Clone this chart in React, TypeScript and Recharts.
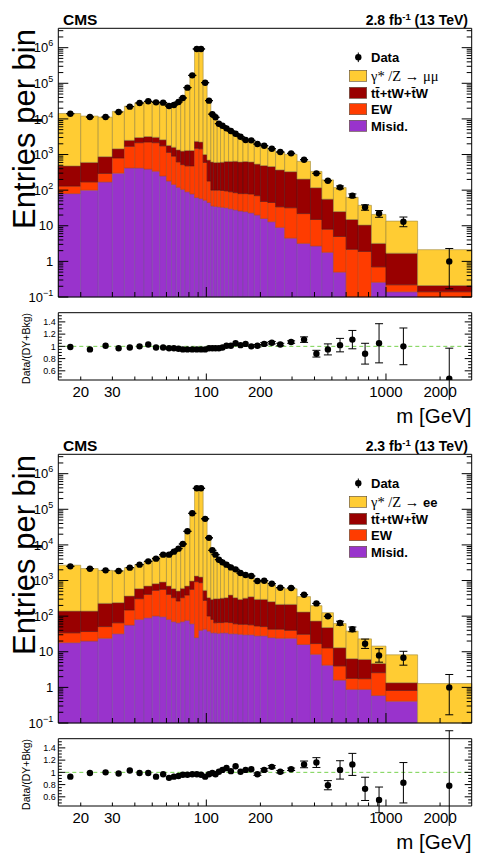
import React from 'react';
import {
  ComposedChart,
  XAxis,
  YAxis,
  Scatter,
  ErrorBar,
  ReferenceArea,
  ReferenceLine,
  Legend,
} from 'recharts';

const SANS = '"Liberation Sans", Arial, Helvetica, sans-serif';
const SERIF = '"Liberation Serif", "DejaVu Serif", "Times New Roman", serif';

// Invariant-mass binning (GeV)
const massEdges = [
  15, 20, 25, 30, 35, 40, 45, 50, 55, 60, 64, 68, 72, 76, 81, 86, 91, 96, 101, 106, 110, 115,
  120, 126, 133, 141, 150, 160, 171, 185, 200, 220, 243, 273, 320, 380, 440, 510, 600, 700,
  830, 1000, 1500, 3000,
];

// Mass-axis ticks
const massTicks = [20, 30, 40, 50, 60, 70, 80, 90, 100, 200, 300, 400, 500, 600, 700, 800, 900, 1000, 2000];
const massMajorTicks = [100, 1000];
const massTickLabels = [20, 30, 100, 200, 1000, 2000];

// Ratio-axis ticks
const ratioMajorTicks = [0.6, 0.8, 1, 1.2, 1.4];
const ratioMinorTicks = [0.5, 0.55, 0.65, 0.7, 0.75, 0.85, 0.9, 0.95, 1.05, 1.1, 1.15, 1.25, 1.3, 1.35, 1.45, 1.5];

const MASS_MIN = 15;
const MASS_MAX = 3000;
const COUNT_MIN = 0.1;
const COUNT_MAX = 3.5e6;
const RATIO_MIN = 0.45;
const RATIO_MAX = 1.55;

// ---------------- dimuon channel ----------------
const muMisid = [80, 100, 170, 300, 420, 420, 390, 340, 250, 180, 145, 120, 105, 90, 78, 62, 58, 52, 45, 36, 35, 34, 33, 32, 30, 28, 26, 25, 23, 20, 16, 13, 9, 4.5, 3.2, 2.7, 1.8, 0.5, 0.08, 0.05, 0.26, 0.14, 0.05];
const muEW = [50, 70, 125, 500, 1280, 1730, 1860, 1810, 1500, 970, 755, 500, 415, 390, 402, 1438, 1392, 548, 135, 64, 65, 66, 65, 63, 60, 57, 54, 55, 55, 50, 32, 32, 25, 27.5, 18.8, 12.3, 6.2, 4.5, 2.1, 1.85, 0.44, 0.08, 0.09];
const muTop = [350, 430, 575, 650, 800, 850, 950, 900, 850, 650, 700, 730, 730, 820, 820, 850, 800, 400, 520, 520, 500, 500, 512, 545, 550, 565, 540, 560, 542, 470, 442, 415, 336, 298, 183, 102, 48, 20, 12.8, 8.6, 2.5, 1.48, 0.07];
const muDY = [13720, 11400, 10330, 14850, 20300, 25300, 27600, 26750, 26600, 21900, 23800, 29750, 39450, 78200, 174700, 965650, 965750, 108000, 32900, 13380, 10800, 6980, 5970, 4740, 3880, 3020, 2490, 1820, 1880, 1410, 1210, 920, 780, 680, 440, 219, 138, 93, 48, 27, 17.6, 11.8, 1.92];
const muData = [14000, 11300, 11300, 15600, 22100, 28000, 31200, 29200, 28600, 23000, 24600, 29900, 38700, 75500, 167000, 920000, 920000, 104000, 32600, 13600, 11100, 7350, 6450, 5430, 4570, 3850, 3170, 2560, 2500, 1970, 1770, 1460, 1180, 1080, 716, 296, 184, 120, 70, 33, 22, 13, 1];
const muDataErrLo = [0, 0, 0, 0, 0, 0, 0, 0, 0, 0, 0, 0, 0, 0, 0, 0, 0, 0, 0, 0, 0, 0, 0, 0, 0, 0, 0, 0, 0, 0, 0, 0, 0, 0, 0, 0, 0, 11, 8.4, 5.7, 4.7, 3.6, 0.83];
const muDataErrHi = [0, 0, 0, 0, 0, 0, 0, 0, 0, 0, 0, 0, 0, 0, 0, 0, 0, 0, 0, 0, 0, 0, 0, 0, 0, 0, 0, 0, 0, 0, 0, 0, 0, 0, 0, 0, 0, 11, 8.4, 5.7, 4.7, 4.6, 1.3];
const muRatio = [0.99, 0.95, 1.01, 0.97, 0.98, 1.0, 1.03, 0.98, 0.98, 0.97, 0.97, 0.96, 0.95, 0.95, 0.95, 0.95, 0.95, 0.95, 0.97, 0.97, 0.97, 0.97, 0.98, 1.01, 1.01, 1.05, 1.02, 1.04, 1.0, 1.01, 1.04, 1.06, 1.03, 1.07, 1.11, 0.88, 0.95, 1.02, 1.11, 0.88, 1.05, 1.0, 0.47];
const muRatioErr = [0, 0, 0, 0, 0, 0, 0, 0, 0, 0, 0, 0, 0, 0, 0, 0, 0, 0, 0, 0, 0, 0, 0, 0, 0, 0, 0, 0, 0, 0.02, 0.02, 0.02, 0.02, 0.02, 0.045, 0.055, 0.09, 0.11, 0.15, 0.17, 0.32, 0.3, 0.5];

// ---------------- dielectron channel ----------------
const eeMisid = [18, 20, 24, 32, 56, 81, 90, 101, 96, 81, 70, 65, 70, 76, 61, 25, 40, 43, 38, 34, 34, 33, 34, 34, 32, 32, 31, 30, 30, 28, 28, 25, 24, 24, 16, 8.5, 4.2, 1.6, 0.88, 0.88, 0.59, 0.41, 0.01];
const eeEW = [16, 17, 27, 33, 93, 228, 319, 429, 469, 328, 260, 201, 260, 316, 504, 904, 831, 234, 63, 47, 31, 33, 32, 34, 34, 29, 28, 29, 27, 25, 23, 18, 19, 16, 15, 8.5, 8.6, 2.4, 0.91, 0.87, 2.0, 0.41, 0.01];
const eeTop = [105, 102, 178, 174, 218, 281, 293, 285, 343, 293, 260, 242, 273, 310, 403, 411, 385, 253, 229, 215, 244, 243, 254, 262, 326, 269, 237, 261, 294, 243, 245, 212, 171, 174, 100, 56, 35, 9, 4.6, 4.35, 2.1, 0.53, 0.01];
const eeDY = [2550, 2030, 1700, 1650, 1930, 2230, 2800, 3600, 4590, 5160, 6360, 7840, 10400, 24400, 78500, 398700, 402700, 57500, 15970, 6820, 5190, 3500, 2800, 2280, 1900, 1540, 1300, 1055, 925, 700, 656, 493, 410, 373, 223, 124, 77, 49, 31.6, 16.9, 9.7, 6.85, 1.25];
const eeData = [2500, 2150, 1930, 1850, 2300, 2790, 3460, 4110, 5330, 5330, 6460, 7850, 10600, 24100, 77100, 388000, 388000, 54000, 15800, 7050, 5330, 3850, 3240, 2790, 2340, 2060, 1620, 1430, 1340, 968, 990, 815, 630, 616, 400, 228, 99, 64, 43, 16.8, 7.9, 6.8, 1];
const eeDataErrLo = [0, 0, 0, 0, 0, 0, 0, 0, 0, 0, 0, 0, 0, 0, 0, 0, 0, 0, 0, 0, 0, 0, 0, 0, 0, 0, 0, 0, 0, 0, 0, 0, 0, 0, 0, 0, 0, 8, 6.5, 4.4, 2.8, 2.6, 0.83];
const eeDataErrHi = [0, 0, 0, 0, 0, 0, 0, 0, 0, 0, 0, 0, 0, 0, 0, 0, 0, 0, 0, 0, 0, 0, 0, 0, 0, 0, 0, 0, 0, 0, 0, 0, 0, 0, 0, 0, 0, 8, 6.5, 5.9, 4.3, 3.5, 1.3];
const eeRatio = [0.93, 0.99, 1.0, 0.98, 1.03, 0.99, 0.99, 0.93, 0.97, 0.91, 0.93, 0.94, 0.96, 0.96, 0.97, 0.97, 0.96, 0.93, 0.97, 0.99, 0.97, 1.01, 1.04, 1.07, 1.02, 1.1, 1.01, 1.04, 1.05, 0.97, 1.04, 1.09, 1.01, 1.05, 1.13, 1.16, 0.79, 1.04, 1.13, 0.73, 0.55, 0.83, 0.78];
const eeRatioErr = [0, 0, 0, 0, 0, 0, 0, 0, 0, 0, 0, 0, 0, 0, 0, 0, 0, 0, 0, 0, 0, 0, 0, 0, 0, 0, 0, 0, 0, 0.02, 0.02, 0.02, 0.02, 0.02, 0.055, 0.08, 0.075, 0.15, 0.18, 0.19, 0.21, 0.33, 0.9];

type Channel = {
  lumi: string;
  finalState: string;
  finalStateSerif: boolean;
  misid: number[];
  ew: number[];
  top: number[];
  dy: number[];
  data: number[];
  errLo: number[];
  errHi: number[];
  ratio: number[];
  ratioErr: number[];
};

const channels: Channel[] = [
  {
    lumi: '2.8', finalState: 'μμ', finalStateSerif: true,
    misid: muMisid, ew: muEW, top: muTop, dy: muDY, data: muData,
    errLo: muDataErrLo, errHi: muDataErrHi, ratio: muRatio, ratioErr: muRatioErr,
  },
  {
    lumi: '2.3', finalState: 'ee', finalStateSerif: false,
    misid: eeMisid, ew: eeEW, top: eeTop, dy: eeDY, data: eeData,
    errLo: eeDataErrLo, errHi: eeDataErrHi, ratio: eeRatio, ratioErr: eeRatioErr,
  },
];

// Stack order, bottom to top
const stackOrder: { key: 'misid' | 'ew' | 'top' | 'dy'; fill: string; stroke: string }[] = [
  { key: 'misid', fill: '#9933cc', stroke: '#7a4d9e' },
  { key: 'ew', fill: '#ff3c00', stroke: '#b84219' },
  { key: 'top', fill: '#990000', stroke: '#5c1010' },
  { key: 'dy', fill: '#ffcc33', stroke: '#9f8a3e' },
];

const countTicks: number[] = [];
for (let d = -1; d <= 6; d++) {
  for (let k = 1; k <= 9; k++) {
    const v = k * Math.pow(10, d);
    if (v < COUNT_MAX) countTicks.push(v);
  }
}

const binCenter = (i: number) => (massEdges[i] + massEdges[i + 1]) / 2;

const isDecade = (v: number) => Math.abs(Math.log10(v) - Math.round(Math.log10(v))) < 1e-6;
const isRatioMajor = (v: number) => ratioMajorTicks.some((t) => Math.abs(t - v) < 1e-6);

const AXIS_LINE = { stroke: '#000', strokeWidth: 1 };

function decadeText(e: number) {
  if (e === 0) return '1';
  if (e === 1) return '10';
  return [
    <tspan key="b">10</tspan>,
    <tspan key="e" dy={-6} fontSize={9}>
      {e < 0 ? '−' + -e : String(e)}
    </tspan>,
  ];
}

// ----- tick renderers (ticks point into the frame) -----
const massTickBottom = (len: [number, number], labels: boolean) => (p: any) => {
  const v = p.payload.value as number;
  const l = massMajorTicks.includes(v) ? len[0] : len[1];
  return (
    <g>
      <line x1={p.x} x2={p.x} y1={p.y} y2={p.y - l} stroke="#000" strokeWidth={1} />
      {labels && massTickLabels.includes(v) && (
        <text x={p.x} y={p.y + 17} textAnchor="middle" fontFamily={SANS} fontSize={15} fill="#000">
          {v}
        </text>
      )}
    </g>
  );
};

const massTickTop = (len: [number, number]) => (p: any) => {
  const v = p.payload.value as number;
  const l = massMajorTicks.includes(v) ? len[0] : len[1];
  return <line x1={p.x} x2={p.x} y1={p.y} y2={p.y + l} stroke="#000" strokeWidth={1} />;
};

const countTickLeft = (p: any) => {
  const v = p.payload.value as number;
  const major = isDecade(v);
  return (
    <g>
      <line x1={p.x} x2={p.x + (major ? 10 : 5)} y1={p.y} y2={p.y} stroke="#000" strokeWidth={1} />
      {major && (
        <text x={p.x - 5} y={p.y + 4.6} textAnchor="end" fontFamily={SANS} fontSize={13} fill="#000">
          {decadeText(Math.round(Math.log10(v)))}
        </text>
      )}
    </g>
  );
};

const countTickRight = (p: any) => {
  const v = p.payload.value as number;
  const major = isDecade(v);
  return <line x1={p.x} x2={p.x - (major ? 10 : 5)} y1={p.y} y2={p.y} stroke="#000" strokeWidth={1} />;
};

const ratioTickLeft = (p: any) => {
  const v = p.payload.value as number;
  const major = isRatioMajor(v);
  return (
    <g>
      <line x1={p.x} x2={p.x + (major ? 7 : 3.5)} y1={p.y} y2={p.y} stroke="#000" strokeWidth={1} />
      {major && (
        <text x={p.x - 2.5} y={p.y + 3.2} textAnchor="end" fontFamily={SANS} fontSize={9} fill="#000">
          {String(v)}
        </text>
      )}
    </g>
  );
};

const ratioTickRight = (p: any) => {
  const v = p.payload.value as number;
  const major = isRatioMajor(v);
  return <line x1={p.x} x2={p.x - (major ? 7 : 3.5)} y1={p.y} y2={p.y} stroke="#000" strokeWidth={1} />;
};

const dataDot = (p: any) => <circle cx={p.cx} cy={p.cy} r={3.2} fill="#000" />;

// ----- legend -----
function LegendBox({ ch }: { ch: Channel }) {
  const rows = [
    { fill: '#ffcc33', label: 'dy' },
    { fill: '#990000', label: 'top' },
    { fill: '#ff3c00', label: 'ew' },
    { fill: '#9933cc', label: 'misid' },
  ];
  const rowY = [28.8, 45.8, 62.2, 78.8];
  const label = (k: string) => {
    if (k === 'dy') {
      return (
        <>
          <tspan fontFamily={SERIF} fontSize={14.5} fontWeight="normal">γ* /Z  →  </tspan>
          {ch.finalStateSerif ? (
            <tspan fontFamily={SERIF} fontSize={14.5} fontWeight="normal">{ch.finalState}</tspan>
          ) : (
            <tspan>{ch.finalState}</tspan>
          )}
        </>
      );
    }
    if (k === 'top') return 'tt\u0304+tW+t\u0304W';
    if (k === 'ew') return 'EW';
    return 'Misid.';
  };
  return (
    <svg width={130} height={88} style={{ display: 'block', overflow: 'visible' }}>
      <line x1={13.3} x2={13.3} y1={5.5} y2={15.1} stroke="#000" strokeWidth={1} />
      <circle cx={13.3} cy={10.3} r={3.2} fill="#000" />
      <text x={26} y={15} fontFamily={SANS} fontWeight="bold" fontSize={13} fill="#000">Data</text>
      {rows.map((r, k) => (
        <g key={r.label}>
          <rect x={4.3} y={rowY[k] - 5.5} width={17.4} height={11} fill={r.fill} stroke="#5a4a3a" strokeWidth={0.6} />
          <text x={26} y={rowY[k] + 4.7} fontFamily={SANS} fontWeight="bold" fontSize={13} fill="#000">
            {label(r.label)}
          </text>
        </g>
      ))}
    </svg>
  );
}

// ----- event-count panel -----
function CountPlot({ ch }: { ch: Channel }) {
  const areas: React.ReactNode[] = [];
  for (let i = 0; i < massEdges.length - 1; i++) {
    let base = 0;
    for (const s of stackOrder) {
      const top = base + ch[s.key][i];
      if (top > COUNT_MIN) {
        areas.push(
          <ReferenceArea
            key={`${s.key}-${i}`}
            xAxisId="m"
            yAxisId="n"
            x1={massEdges[i]}
            x2={massEdges[i + 1]}
            y1={Math.max(base, COUNT_MIN)}
            y2={top}
            fill={s.fill}
            fillOpacity={1}
            stroke={s.stroke}
            strokeWidth={0.6}
            ifOverflow="visible"
          />
        );
      }
      base = top;
    }
  }
  const points = ch.data.map((v, i) => ({ x: binCenter(i), y: v, err: [ch.errLo[i], ch.errHi[i]] }));
  return (
    <ComposedChart width={478} height={310} margin={{ top: 18.3, right: 5.3, bottom: 0, left: 8.3 }}>
      <XAxis
        xAxisId="m" type="number" dataKey="x" scale="log" domain={[MASS_MIN, MASS_MAX]} allowDataOverflow
        ticks={massTicks} interval={0} tickSize={0} tickMargin={0} tickLine={false} axisLine={AXIS_LINE}
        height={13} tick={massTickBottom([10, 5], false)}
      />
      <XAxis
        xAxisId="mt" orientation="top" type="number" scale="log" domain={[MASS_MIN, MASS_MAX]} allowDataOverflow
        ticks={massTicks} interval={0} tickSize={0} tickMargin={0} tickLine={false} axisLine={AXIS_LINE}
        height={10} tick={massTickTop([10, 5])}
      />
      <YAxis
        yAxisId="n" type="number" dataKey="y" scale="log" domain={[COUNT_MIN, COUNT_MAX]} allowDataOverflow
        ticks={countTicks} interval={0} tickSize={0} tickMargin={0} tickLine={false} axisLine={AXIS_LINE}
        width={50} tick={countTickLeft}
      />
      <YAxis
        yAxisId="nr" orientation="right" type="number" scale="log" domain={[COUNT_MIN, COUNT_MAX]} allowDataOverflow
        ticks={countTicks} interval={0} tickSize={0} tickMargin={0} tickLine={false} axisLine={AXIS_LINE}
        width={1} tick={countTickRight}
      />
      {areas}
      <Scatter xAxisId="m" yAxisId="n" data={points} dataKey="y" isAnimationActive={false} shape={dataDot}>
        <ErrorBar dataKey="err" direction="y" width={4} stroke="#000" strokeWidth={1} isAnimationActive={false} />
      </Scatter>
      <Legend
        layout="vertical"
        align="center"
        verticalAlign="middle"
        width={130}
        wrapperStyle={{ left: 345, top: 47, width: 130 }}
        content={() => <LegendBox ch={ch} />}
      />
    </ComposedChart>
  );
}

// ----- Data/(DY+Bkg) panel -----
function RatioPlot({ ch }: { ch: Channel }) {
  const points = ch.ratio.map((r, i) => ({ x: binCenter(i), y: r, err: ch.ratioErr[i] }));
  const rTicks = [...ratioMajorTicks, ...ratioMinorTicks];
  return (
    <ComposedChart width={478} height={100} margin={{ top: 10.7, right: 5.3, bottom: 0, left: 8.3 }}>
      <XAxis
        xAxisId="m" type="number" dataKey="x" scale="log" domain={[MASS_MIN, MASS_MAX]} allowDataOverflow
        ticks={massTicks} interval={0} tickSize={0} tickMargin={0} tickLine={false} axisLine={AXIS_LINE}
        height={20} tick={massTickBottom([6.5, 3.5], true)}
      />
      <XAxis
        xAxisId="mt" orientation="top" type="number" scale="log" domain={[MASS_MIN, MASS_MAX]} allowDataOverflow
        ticks={massTicks} interval={0} tickSize={0} tickMargin={0} tickLine={false} axisLine={AXIS_LINE}
        height={2} tick={massTickTop([6.5, 3.5])}
      />
      <YAxis
        yAxisId="r" type="number" dataKey="y" domain={[RATIO_MIN, RATIO_MAX]} allowDataOverflow
        ticks={rTicks} interval={0} tickSize={0} tickMargin={0} tickLine={false} axisLine={AXIS_LINE}
        width={50} tick={ratioTickLeft}
      />
      <YAxis
        yAxisId="rr" orientation="right" type="number" domain={[RATIO_MIN, RATIO_MAX]} allowDataOverflow
        ticks={rTicks} interval={0} tickSize={0} tickMargin={0} tickLine={false} axisLine={AXIS_LINE}
        width={1} tick={ratioTickRight}
      />
      <ReferenceLine xAxisId="m" yAxisId="r" y={1} stroke="#78d24e" strokeWidth={1} strokeDasharray="4 3" ifOverflow="visible" />
      <Scatter xAxisId="m" yAxisId="r" data={points} dataKey="y" isAnimationActive={false} shape={dataDot}>
        <ErrorBar dataKey="err" direction="y" width={4} stroke="#000" strokeWidth={1} isAnimationActive={false} />
      </Scatter>
    </ComposedChart>
  );
}

function Panel({ ch, top }: { ch: Channel; top: number }) {
  return (
    <div style={{ position: 'absolute', left: 0, top, width: 478, height: 426 }}>
      <div style={{ position: 'absolute', left: 0, top: 0 }}>
        <CountPlot ch={ch} />
      </div>
      <div style={{ position: 'absolute', left: 0, top: 300 }}>
        <RatioPlot ch={ch} />
      </div>
      <svg
        width={478}
        height={426}
        style={{ position: 'absolute', left: 0, top: 0, pointerEvents: 'none', overflow: 'visible' }}
      >
        <text x={63} y={25} fontFamily={SANS} fontWeight="bold" fontSize={15.5} fill="#000">CMS</text>
        <text x={468} y={25} textAnchor="end" fontFamily={SANS} fontWeight="bold" fontSize={14} fill="#000">
          <tspan>{ch.lumi} fb</tspan>
          <tspan dy={-5} fontSize={9.5}>-1</tspan>
          <tspan dy={5}> (13 TeV)</tspan>
        </text>
        <text
          transform="translate(35,29) rotate(-90)"
          textAnchor="end"
          fontFamily={SANS}
          fontSize={31}
          fill="#000"
        >
          Entries per bin
        </text>
        <text
          transform="translate(29.5,313) rotate(-90)"
          textAnchor="end"
          fontFamily={SANS}
          fontSize={10.5}
          fill="#000"
        >
          Data/(DY+Bkg)
        </text>
        <text x={471.5} y={422.5} textAnchor="end" fontFamily={SANS} fontSize={20.5} fill="#000">
          m [GeV]
        </text>
      </svg>
    </div>
  );
}

export default function App() {
  return (
    <div style={{ position: 'absolute', left: 0, top: 0, width: 478, height: 853, background: '#fff', overflow: 'hidden' }}>
      <Panel ch={channels[0]} top={0} />
      <Panel ch={channels[1]} top={425.5} />
    </div>
  );
}
